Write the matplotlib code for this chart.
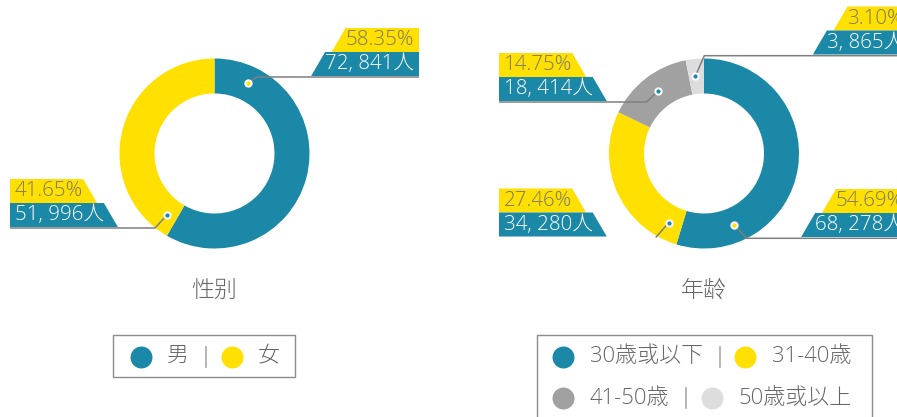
import matplotlib.pyplot as plt
from matplotlib.patches import Polygon, Rectangle
import numpy as np

plt.rcParams['font.family'] = ['Open Sans', 'Noto Sans CJK JP', 'DejaVu Sans']

TEAL = '#1a88a6'
YELLOW = '#ffe000'
GRAY = '#a0a1a0'
LIGHT = '#dcdddc'
TXT = '#666666'
PCT_TXT = '#7a7a6a'
LINE = '#7f7f7f'

# data
gender_title = '性别'
gender_labels = ['男', '女']
gender_counts = [72841, 51996]
gender_colors = [TEAL, YELLOW]

age_title = '年龄'
age_labels = ['30歳或以下', '31-40歳', '41-50歳', '50歳或以上']
age_counts = [68278, 34280, 18414, 3865]
age_colors = [TEAL, YELLOW, GRAY, LIGHT]

W, H = 897, 417
fig = plt.figure(figsize=(W / 100, H / 100), dpi=100)
ax = fig.add_axes([0, 0, 1, 1])
renderer = fig.canvas.get_renderer()

R, RW = 95, 35
RM = R - RW / 2


def donut(cx, cy, counts, colors):
    ax.pie(counts, colors=colors, center=(cx, cy), radius=R, startangle=-90,
           counterclock=True, wedgeprops=dict(width=RW, linewidth=0))


def callout(pct, cnt, bx, by, side):
    # bx, by: outer end of the box bottom edge
    h, sl, pad = 24, 14, 5
    if side == 'left':
        tx, ha = bx + pad, 'left'
    else:
        tx, ha = bx - pad, 'right'
    t1 = ax.text(tx, by - 1.5 * h, pct, ha=ha, va='center', fontsize=14.8,
                 color=PCT_TXT, zorder=6, fontweight='light')
    t2 = ax.text(tx, by - 0.5 * h, cnt, ha=ha, va='center', fontsize=14.8,
                 color='white', zorder=6, fontweight='light')
    for t, top, col in [(t1, by - 2 * h, YELLOW), (t2, by - h, TEAL)]:
        w = t.get_window_extent(renderer).width
        if side == 'left':
            e = bx + pad + w
            pts = [(bx, top), (e, top), (e + sl, top + h), (bx, top + h)]
        else:
            e = bx - pad - w
            pts = [(bx, top), (e, top), (e - sl, top + h), (bx, top + h)]
        ax.add_patch(Polygon(pts, closed=True, facecolor=col, edgecolor='none', zorder=5))


def pointer(cx, cy, ang, elbow, endx, inner):
    a = np.deg2rad(ang)
    dx, dy = cx + RM * np.sin(a), cy - RM * np.cos(a)
    ax.plot([dx, elbow[0], endx], [dy, elbow[1], elbow[1]], color=LINE, lw=1.1,
            zorder=4, solid_capstyle='butt')
    ax.scatter([dx], [dy], s=36, color='white', zorder=7, linewidths=0)
    ax.scatter([dx], [dy], s=9, color=inner, zorder=8, linewidths=0)


def fmt(n):
    return f'{n:,}'.replace(',', ', ') + '人'


def legend_row(x0, y, labels, colors):
    x = x0
    for i, (lab, col) in enumerate(zip(labels, colors)):
        if i > 0:
            ax.plot([x, x], [y - 10, y + 10], color='#a8a8a8', lw=1.2)
            x += 25.5
        ax.scatter([x], [y], s=250, color=col, linewidths=0, zorder=3)
        t = ax.text(x + 26.5, y, lab, ha='left', va='center', fontsize=15.8,
                    color=TXT, fontweight='light')
        x = x + 26.5 + t.get_window_extent(renderer).width + 17


# gender donut
gcx, gcy = 214.5, 153.5
donut(gcx, gcy, gender_counts, gender_colors)
gtot = sum(gender_counts)
g_layout = [
    # dot angle, elbow, line end x, box anchor, side, inner dot colour
    (25.4, (256.7, 77), 419, (419, 76), 'right', YELLOW),
    (217.7, (155, 228), 10, (10, 227), 'left', TEAL),
]
for c, (ang, elb, ex, bxy, side, inner) in zip(gender_counts, g_layout):
    pointer(gcx, gcy, ang, elb, ex, inner)
    callout(f'{100 * c / gtot:.2f}%', fmt(c), bxy[0], bxy[1], side)

# age donut
acx, acy = 704, 153.5
donut(acx, acy, age_counts, age_colors)
atot = sum(age_counts)
a_layout = [
    (157.2, (746.7, 238.3), 909, (909, 237), 'right', YELLOW),
    (207, (655.7, 237.5), 655.7, (499, 236.5), 'left', TEAL),
    (323.2, (646.7, 102), 499, (499, 101), 'left', TEAL),
    (353.5, (704.3, 55.7), 909, (909, 54.5), 'right', TEAL),
]
for c, (ang, elb, ex, bxy, side, inner) in zip(age_counts, a_layout):
    pointer(acx, acy, ang, elb, ex, inner)
    callout(f'{100 * c / atot:.2f}%', fmt(c), bxy[0], bxy[1], side)

# titles
ax.text(gcx, 291, gender_title, ha='center', va='center', fontsize=16.5,
        color=TXT, fontweight='light')
ax.text(acx, 291, age_title, ha='center', va='center', fontsize=16.5,
        color=TXT, fontweight='light')

# legends
ax.add_patch(Rectangle((113, 335), 182, 42, facecolor='none', edgecolor='#8c8c8c', lw=1))
legend_row(140.7, 356.5, gender_labels, gender_colors)
ax.add_patch(Rectangle((537, 335), 335, 100, facecolor='none', edgecolor='#8c8c8c', lw=1))
legend_row(563.3, 356.7, age_labels[:2], age_colors[:2])
legend_row(563.3, 398.3, age_labels[2:], age_colors[2:])

ax.set_xlim(0, W)
ax.set_ylim(H, 0)
ax.set_aspect('equal')
ax.axis('off')

fig.savefig('out.png', dpi=100)
